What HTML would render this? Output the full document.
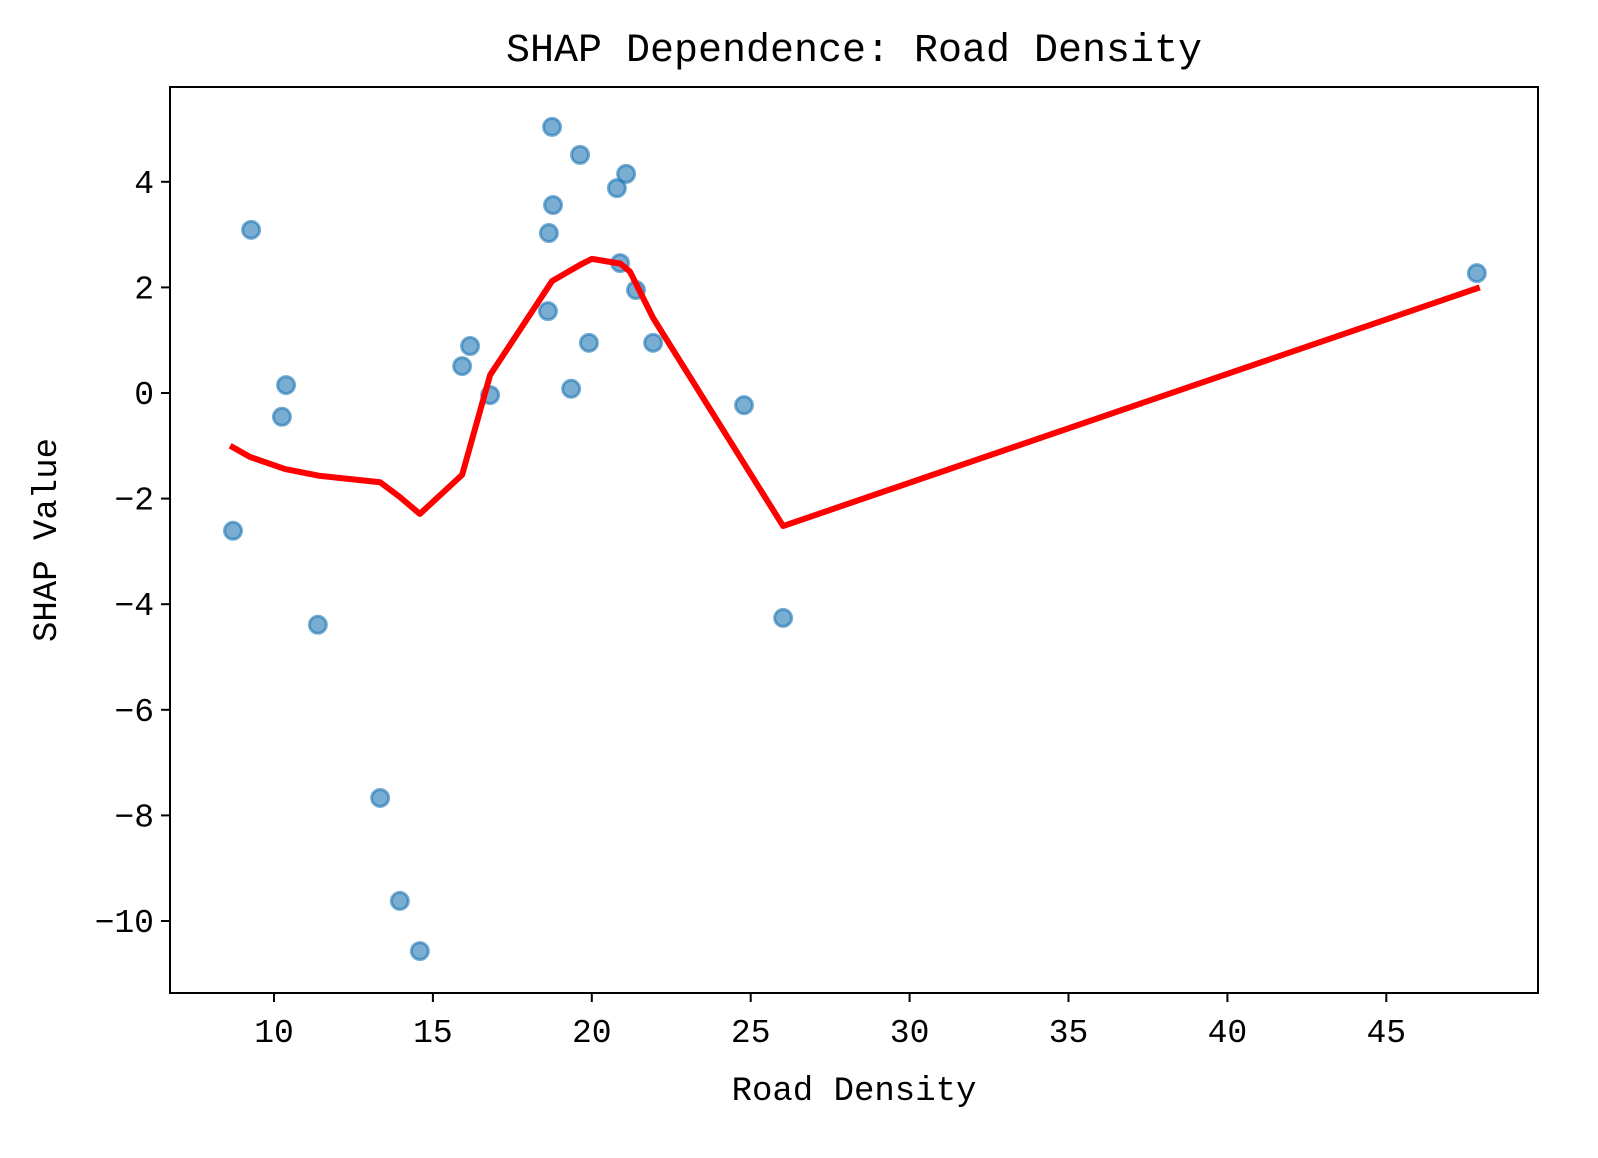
<!DOCTYPE html>
<html><head><meta charset="utf-8"><style>
html,body{margin:0;padding:0;background:#fff;overflow:hidden;width:1598px;height:1158px}
svg{display:block}
svg text{font-family:"Liberation Mono","Noto Sans CJK SC",monospace;fill:#000}
</style></head><body>
<svg width="1598" height="1158" viewBox="0 0 1598 1158">
<g id="g"></g>
</svg>
<script>
const xs=[8.71,9.28,10.38,10.25,11.38,13.34,13.96,14.59,15.92,16.17,16.80,18.62,18.65,18.75,18.78,19.35,19.63,19.91,20.79,20.89,21.08,21.39,21.93,24.79,26.02,47.85];
const ys=[-2.61,3.09,0.15,-0.45,-4.39,-7.67,-9.62,-10.57,0.51,0.89,-0.04,1.55,3.03,5.04,3.56,0.08,4.51,0.95,3.88,2.46,4.15,1.95,0.95,-0.23,-4.26,2.27];
const lx=[8.62,9.24,10.35,11.45,13.34,13.96,14.59,15.92,16.80,18.75,19.7,20.0,20.9,21.2,21.93,26.02,47.94];
const ly=[-1.0,-1.21,-1.44,-1.57,-1.69,-1.97,-2.29,-1.55,0.34,2.12,2.45,2.54,2.45,2.3,1.42,-2.52,2.0];
const xt=[10,15,20,25,30,35,40,45];
const yt=[4,2,0,-2,-4,-6,-8,-10];
const L=170,R=1538,T=87,B=993;
const X=v=>274+(v-10)*31.78, Y=v=>393-v*52.8;
const g=document.getElementById('g');const NS='http://www.w3.org/2000/svg';
function mk(t,a,txt){const e=document.createElementNS(NS,t);for(const k in a)e.setAttribute(k,a[k]);if(txt!=null)e.textContent=txt;g.appendChild(e);return e;}
xs.forEach((x,i)=>{const c=mk('circle',{cx:X(x),cy:Y(ys[i]),r:8.5,fill:'#1f77b4','fill-opacity':0.6,stroke:'#1f77b4','stroke-opacity':0.6,'stroke-width':3});

});
const p=mk('polyline',{points:lx.map((x,i)=>X(x)+','+Y(ly[i])).join(' '),fill:'none',stroke:'#ff0000','stroke-width':6,'stroke-linejoin':'round'});


const fr=mk('rect',{x:L,y:T,width:R-L,height:B-T,fill:'none',stroke:'#000','stroke-width':2});


xt.forEach(v=>{mk('line',{x1:X(v),x2:X(v),y1:B,y2:B+9,stroke:'#000','stroke-width':2});
const t=mk('text',{x:X(v),y:B+49,'text-anchor':'middle','font-size':33},String(v));

});
yt.forEach(v=>{mk('line',{x1:L-9,x2:L,y1:Y(v),y2:Y(v),stroke:'#000','stroke-width':2});
const t=mk('text',{x:L-16,y:Y(v)+11,'text-anchor':'end','font-size':33},v<0?'\u2212'+(-v):String(v));

});
const tt=mk('text',{x:854,y:61,'text-anchor':'middle','font-size':40},'SHAP Dependence: Road Density');


const xl=mk('text',{x:854,y:1100,'text-anchor':'middle','font-size':34},'Road Density');


const yl=mk('text',{x:0,y:0,'text-anchor':'middle','font-size':34,transform:'translate(56,540) rotate(-90)'},'SHAP Value');


</script>
</body></html>
